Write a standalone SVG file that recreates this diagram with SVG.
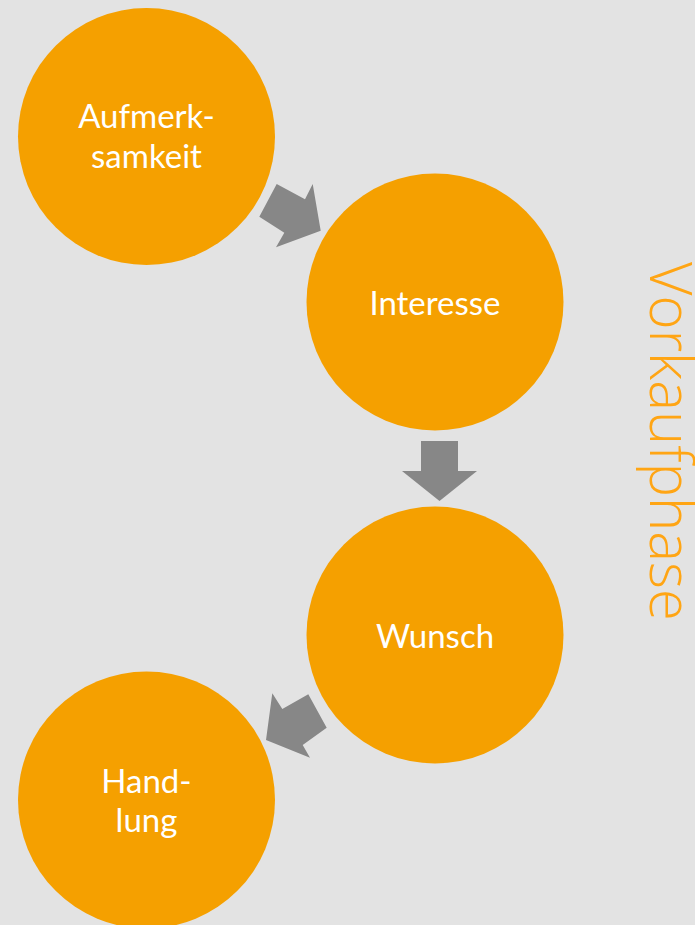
<svg xmlns="http://www.w3.org/2000/svg" width="695" height="925" viewBox="0 0 695 925">
<style>
.node circle{fill:#F5A000}
.node text{fill:#FFFFFF;font-family:Lato,"Open Sans","Liberation Sans",sans-serif;font-size:33px;text-anchor:middle}
.arrow{fill:#878787}
.title{fill:#FFA514;font-family:"Open Sans","Noto Sans","Liberation Sans",sans-serif;font-weight:300;font-size:58px;text-anchor:middle}
</style>
<rect width="695" height="925" fill="#E3E3E3"/>
<g id="connectors">
<polygon class="arrow" points="276.7,184 305,199.3 312.7,184 320.7,230.7 276,247.3 284.3,232.7 259.3,216.7"/>
<polygon class="arrow" points="421,441 458,441 458,471 477,471 439.5,501 402,471 421,471"/>
<polygon class="arrow" points="308.3,694.3 282.3,709 272.3,693.3 266,740 310,757.7 302.7,745 326.7,727.7"/>
</g>
<g id="aufmerksamkeit" class="node">
<circle cx="146.5" cy="136.5" r="128.5"/>
<text x="146.5" y="128">Aufmerk-</text>
<text x="146.5" y="168">samkeit</text>
</g>
<g id="interesse" class="node">
<circle cx="435" cy="302" r="128.5"/>
<text x="435" y="315">Interesse</text>
</g>
<g id="wunsch" class="node">
<circle cx="435" cy="635" r="128.5"/>
<text x="435" y="648">Wunsch</text>
</g>
<g id="handlung" class="node">
<circle cx="146.5" cy="800" r="128.5"/>
<text x="146.5" y="792.5">Hand-</text>
<text x="146.5" y="832">lung</text>
</g>
<g id="vorkaufphase">
<text class="title" transform="translate(650,441.5) rotate(90)">Vorkaufphase</text>
</g>
</svg>
